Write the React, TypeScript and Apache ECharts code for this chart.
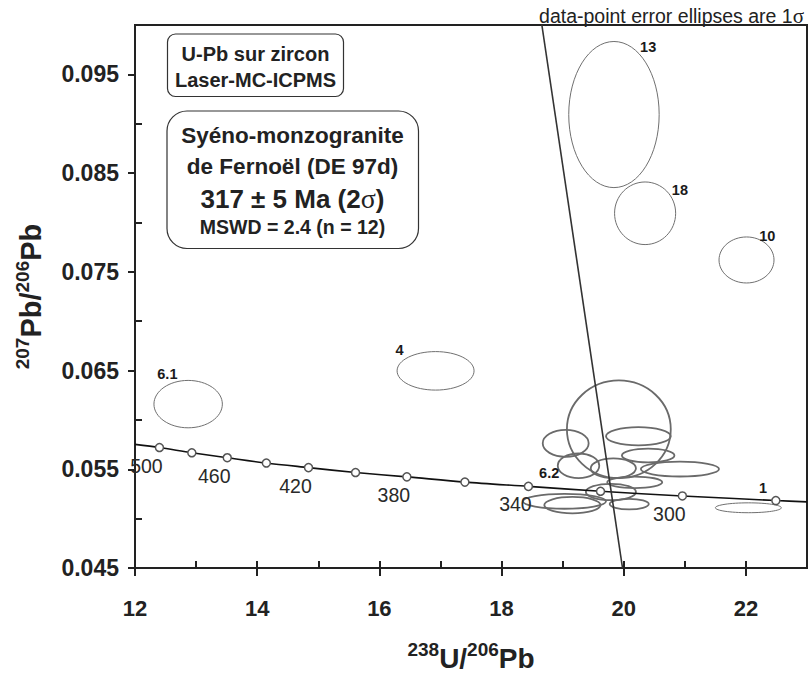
import React, { useEffect, useRef } from 'react';
import * as echarts from 'echarts';

// ---- data ----
const xMajorTicks = [12, 14, 16, 18, 20, 22];
const xMinorTicks = [12, 13, 14, 15, 16, 17, 18, 19, 20, 21, 22];
const yMajorTicks = [0.045, 0.055, 0.065, 0.075, 0.085, 0.095];
const yMinorTicks = [0.05, 0.06, 0.07, 0.08, 0.09];

// Concordia age markers (Ma) with their 238U/206Pb and 207Pb/206Pb
const concordiaAges = [500, 480, 460, 440, 420, 400, 380, 360, 340, 320, 300, 280];
const concordiaX = [12.40, 12.93, 13.51, 14.15, 14.84, 15.61, 16.45, 17.40, 18.44, 19.62, 20.96, 22.49];
const concordiaY = [0.0572, 0.05667, 0.05617, 0.05563, 0.05517, 0.05467, 0.05423, 0.0537, 0.05327, 0.05277, 0.0523, 0.05183];
const labeledAges = [500, 460, 420, 380, 340, 300];
// curve end points (plot edges)
const curveStart = [12.0, 0.05752];
const curveEnd = [23.0, 0.0517];

// discordia (regression) line
const discordiaX = [18.66, 19.98];
const discordiaY = [0.1, 0.045];

// error ellipses: centre x, centre y, semi-axis x, semi-axis y, kind (0 thin, 1 cluster)
const ellX = [19.84, 20.35, 22.01, 12.87, 16.92, 22.04, 19.92, 20.24, 19.05, 20.40, 19.26, 19.83, 20.92, 20.18, 19.79, 19.03, 19.16, 20.09];
const ellY = [0.09093, 0.08093, 0.0762, 0.0616, 0.06497, 0.0511, 0.05905, 0.05835, 0.05763, 0.0564, 0.05535, 0.0551, 0.05502, 0.05368, 0.0527, 0.05175, 0.05137, 0.05147];
const ellRx = [0.74, 0.50, 0.45, 0.56, 0.63, 0.54, 0.85, 0.53, 0.376, 0.43, 0.34, 0.37, 0.64, 0.45, 0.41, 0.68, 0.46, 0.32];
const ellRy = [0.0074, 0.00317, 0.00233, 0.0024, 0.00195, 0.0005, 0.00495, 0.00092, 0.00137, 0.0007, 0.00125, 0.001, 0.00075, 0.00058, 0.00083, 0.00075, 0.00083, 0.00053];
const ellKind = [0, 0, 0, 0, 0, 0, 1, 1, 1, 1, 1, 1, 1, 1, 1, 1, 1, 1];

// spot labels
const spotNames = ['13', '18', '10', '6.1', '4', '6.2', '1'];
const spotX = [20.40, 20.92, 22.35, 12.53, 16.33, 18.78, 22.28];
const spotY = [0.09777, 0.08333, 0.0786, 0.0646, 0.0671, 0.0546, 0.0531];

const FONT = '"Liberation Sans", Arial, Helvetica, sans-serif';
const SERIF = '"Liberation Serif", "DejaVu Serif", serif';

export default function App() {
  const ref = useRef<HTMLDivElement>(null);

  useEffect(() => {
    if (!ref.current) return;
    const chart = echarts.init(ref.current, undefined, { renderer: 'svg' });

    const ellipseData = ellX.map((x, i) => [x, ellY[i], ellRx[i], ellRy[i], ellKind[i]]);
    const curveData = [curveStart, ...concordiaX.map((x, i) => [x, concordiaY[i]]), curveEnd];
    const markerData = concordiaX.map((x, i) => [x, concordiaY[i], concordiaAges[i]]);
    const ageLabelData = markerData.filter((d) => labeledAges.includes(d[2] as number));

    const commonX = { type: 'value', min: 12, max: 23, gridIndex: 0, splitLine: { show: false } };
    const commonY = { type: 'value', min: 0.045, max: 0.1, gridIndex: 0, splitLine: { show: false } };

    const option: any = {
      animation: false,
      backgroundColor: '#fff',
      grid: {
        left: 135,
        right: 2,
        top: 25,
        bottom: 101,
        show: true,
        borderColor: '#222',
        borderWidth: 2,
      },
      xAxis: [
        {
          ...commonX,
          position: 'bottom',
          axisLine: { show: true, lineStyle: { color: '#222', width: 2 } },
          axisTick: { show: true, inside: false, length: 8, customValues: xMajorTicks, lineStyle: { color: '#222', width: 2 } },
          axisLabel: {
            show: true,
            customValues: xMajorTicks,
            margin: 29,
            fontFamily: FONT,
            fontWeight: 'bold',
            fontSize: 22,
            color: '#222',
          },
          name: '{sup|238}{b|U/}{sup|206}{b|Pb}',
          nameLocation: 'middle',
          nameGap: 72,
          nameTextStyle: {
            rich: {
              sup: { fontSize: 19, fontWeight: 'bold', fontFamily: FONT, color: '#222', verticalAlign: 'top', lineHeight: 14 },
              b: { fontSize: 28, fontWeight: 'bold', fontFamily: FONT, color: '#222', lineHeight: 36 },
            },
          },
        },
        {
          ...commonX,
          position: 'bottom',
          axisLine: { show: false },
          axisTick: { show: true, inside: true, length: 7, customValues: xMinorTicks, lineStyle: { color: '#222', width: 2 } },
          axisLabel: { show: false },
        },
      ],
      yAxis: [
        {
          ...commonY,
          position: 'left',
          axisLine: { show: true, lineStyle: { color: '#222', width: 2 } },
          axisTick: { show: true, inside: false, length: 7, customValues: yMajorTicks, lineStyle: { color: '#222', width: 2 } },
          axisLabel: {
            show: true,
            customValues: yMajorTicks,
            margin: 16,
            fontFamily: FONT,
            fontWeight: 'bold',
            fontSize: 23,
            color: '#222',
            formatter: (v: number) => v.toFixed(3),
          },
          name: '{sup|207}{b|Pb/}{sup|206}{b|Pb}',
          nameLocation: 'middle',
          nameRotate: 90,
          nameGap: 86,
          nameTextStyle: {
            rich: {
              sup: { fontSize: 19, fontWeight: 'bold', fontFamily: FONT, color: '#222', verticalAlign: 'top', lineHeight: 14 },
              b: { fontSize: 29, fontWeight: 'bold', fontFamily: FONT, color: '#222', lineHeight: 36 },
            },
          },
        },
        {
          ...commonY,
          position: 'left',
          axisLine: { show: false },
          axisTick: { show: true, inside: true, length: 7, customValues: yMinorTicks, lineStyle: { color: '#222', width: 2 } },
          axisLabel: { show: false },
        },
      ],
      series: [
        {
          type: 'custom',
          name: 'ellipses',
          xAxisIndex: 0,
          yAxisIndex: 0,
          clip: false,
          data: ellipseData,
          renderItem: (params: any, api: any) => {
            const c = api.coord([api.value(0), api.value(1)]);
            const s = api.size([api.value(2), api.value(3)]);
            const kind = api.value(4);
            return {
              type: 'ellipse',
              shape: { cx: c[0], cy: c[1], rx: s[0], ry: s[1] },
              style: {
                fill: 'none',
                stroke: kind === 1 ? '#6a6a6a' : '#707070',
                lineWidth: kind === 1 ? 1.8 : 1,
              },
            };
          },
          z: 2,
        },
        {
          type: 'line',
          name: 'concordia',
          xAxisIndex: 0,
          yAxisIndex: 0,
          data: curveData,
          smooth: 0.3,
          symbol: 'none',
          lineStyle: { color: '#111', width: 1.6 },
          z: 3,
        },
        {
          type: 'line',
          name: 'discordia',
          xAxisIndex: 0,
          yAxisIndex: 0,
          data: discordiaX.map((x, i) => [x, discordiaY[i]]),
          symbol: 'none',
          lineStyle: { color: '#333', width: 1.6 },
          z: 3,
        },
        {
          type: 'scatter',
          name: 'markers',
          xAxisIndex: 0,
          yAxisIndex: 0,
          data: markerData,
          symbol: 'circle',
          symbolSize: 8,
          itemStyle: { color: '#fff', borderColor: '#555', borderWidth: 1.5, opacity: 1 },
          z: 4,
        },
        {
          type: 'scatter',
          name: 'ageLabels',
          xAxisIndex: 0,
          yAxisIndex: 0,
          data: ageLabelData,
          symbolSize: 0,
          itemStyle: { opacity: 1 },
          label: {
            show: true,
            position: 'inside',
            offset: [-13, 18],
            formatter: (p: any) => String(p.value[2]),
            fontFamily: FONT,
            fontSize: 19.5,
            color: '#2a2a2a',
          },
          z: 5,
        },
        {
          type: 'scatter',
          name: 'spotLabels',
          xAxisIndex: 0,
          yAxisIndex: 0,
          data: spotX.map((x, i) => ({ value: [x, spotY[i]], name: spotNames[i] })),
          symbolSize: 0,
          itemStyle: { opacity: 1 },
          label: {
            show: true,
            position: 'inside',
            formatter: (p: any) => p.name,
            fontFamily: FONT,
            fontWeight: 'bold',
            fontSize: 14.5,
            color: '#1a1a1a',
          },
          z: 5,
        },
      ],
      graphic: [
        {
          type: 'text',
          x: 804,
          y: 16,
          style: {
            text: 'data-point error ellipses are 1{s|σ}',
            fontFamily: FONT,
            fontSize: 19.5,
            fill: '#222',
            align: 'right',
            verticalAlign: 'middle',
            rich: { s: { fontFamily: SERIF, fontSize: 21, fill: '#222' } },
          },
          z: 10,
        },
        {
          type: 'rect',
          shape: { x: 167.5, y: 34, width: 176, height: 62.5, r: 8 },
          style: { fill: '#fff', stroke: '#333', lineWidth: 1.2 },
          z: 10,
        },
        {
          type: 'text',
          x: 255.5,
          y: 53.5,
          style: { text: 'U-Pb sur zircon', fontFamily: FONT, fontWeight: 'bold', fontSize: 20, fill: '#222', align: 'center', verticalAlign: 'middle' },
          z: 11,
        },
        {
          type: 'text',
          x: 255.5,
          y: 79.5,
          style: { text: 'Laser-MC-ICPMS', fontFamily: FONT, fontWeight: 'bold', fontSize: 20, fill: '#222', align: 'center', verticalAlign: 'middle' },
          z: 11,
        },
        {
          type: 'rect',
          shape: { x: 167, y: 111, width: 251.5, height: 137.5, r: 20 },
          style: { fill: '#fff', stroke: '#333', lineWidth: 1.2 },
          z: 10,
        },
        {
          type: 'text',
          x: 292.5,
          y: 135,
          style: { text: 'Syéno-monzogranite', fontFamily: FONT, fontWeight: 'bold', fontSize: 22.5, fill: '#222', align: 'center', verticalAlign: 'middle' },
          z: 11,
        },
        {
          type: 'text',
          x: 292.5,
          y: 166.5,
          style: { text: 'de Fernoël (DE 97d)', fontFamily: FONT, fontWeight: 'bold', fontSize: 22.5, fill: '#222', align: 'center', verticalAlign: 'middle' },
          z: 11,
        },
        {
          type: 'text',
          x: 292.5,
          y: 198.5,
          style: {
            text: '317 ± 5 Ma (2{s|σ})',
            fontFamily: FONT,
            fontWeight: 'bold',
            fontSize: 26,
            fill: '#222',
            align: 'center',
            verticalAlign: 'middle',
            rich: { s: { fontFamily: SERIF, fontWeight: 'normal', fontSize: 28, fill: '#222' } },
          },
          z: 11,
        },
        {
          type: 'text',
          x: 292.5,
          y: 226.5,
          style: { text: 'MSWD = 2.4 (n = 12)', fontFamily: FONT, fontWeight: 'bold', fontSize: 19.5, fill: '#222', align: 'center', verticalAlign: 'middle' },
          z: 11,
        },
      ],
    };

    chart.setOption(option);
    return () => chart.dispose();
  }, []);

  return (
    <div
      ref={ref}
      style={{ position: 'fixed', left: 0, top: 0, width: 809, height: 677, background: '#fff' }}
    />
  );
}
